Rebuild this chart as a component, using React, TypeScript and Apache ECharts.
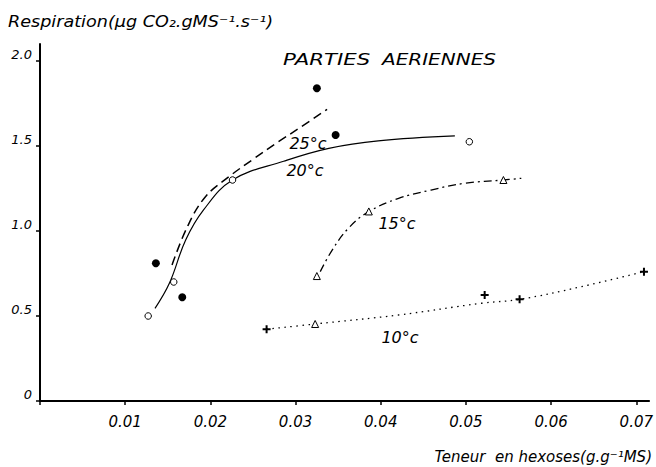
import React, { useEffect, useRef } from "react";
import * as echarts from "echarts";

// Axis ticks
const xTicks = [0, 0.01, 0.02, 0.03, 0.04, 0.05, 0.06, 0.07];
const xLabels = [0.01, 0.02, 0.03, 0.04, 0.05, 0.06, 0.07];
const yTicks = [0, 0.5, 1.0, 1.5, 2.0];

// Measured points
const pts25 = [
  [0.0136, 0.81],
  [0.0167, 0.61],
  [0.0325, 1.84],
  [0.0347, 1.565],
];
const pts20 = [
  [0.0127, 0.5],
  [0.0157, 0.7],
  [0.0226, 1.3],
  [0.0504, 1.525],
];
const pts15 = [
  [0.0325, 0.735],
  [0.0386, 1.115],
  [0.0544, 1.3],
];
const pts10tri = [[0.0323, 0.453]];
const pts10cross = [
  [0.0266, 0.422],
  [0.0522, 0.624],
  [0.0563, 0.598],
  [0.0709, 0.761],
];

// Fitted curves
const curve25 = [
  [0.0155, 0.8],
  [0.0173, 1.025],
  [0.0194, 1.2],
  [0.0222, 1.32],
  [0.0249, 1.418],
  [0.028, 1.525],
  [0.0307, 1.614],
  [0.0337, 1.716],
];
const curve20 = [
  [0.0135, 0.545],
  [0.0152, 0.694],
  [0.0171, 0.947],
  [0.0192, 1.124],
  [0.0226, 1.3],
  [0.0286, 1.41],
  [0.0339, 1.486],
  [0.0397, 1.53],
  [0.0487, 1.559],
];
const curve15 = [
  [0.0329, 0.761],
  [0.0343, 0.888],
  [0.0362, 1.016],
  [0.0386, 1.114],
  [0.0421, 1.192],
  [0.0459, 1.241],
  [0.0499, 1.281],
  [0.0544, 1.3],
  [0.0565, 1.31],
];
const curve10 = [
  [0.0266, 0.422],
  [0.0323, 0.453],
  [0.0421, 0.506],
  [0.0518, 0.575],
  [0.0563, 0.598],
  [0.0635, 0.672],
  [0.0709, 0.761],
];

const FONT = "'DejaVu Sans', sans-serif";
const PLUS = "path://M3,0h2v3h3v2h-3v3h-2v-3h-3v-2h3z";

export default function App() {
  const ref = useRef<HTMLDivElement>(null);
  useEffect(() => {
    if (!ref.current) return;
    const chart = echarts.init(ref.current, null, { renderer: "svg" });
    const lineBase = (data: number[][], type: any, width: number) => ({
      type: "line",
      data,
      smooth: 0.4,
      symbol: "none",
      silent: true,
      z: 2,
      lineStyle: { color: "#000", width, type },
    });
    const scatter = (data: number[][], symbol: string, size: number, filled: boolean) => ({
      type: "scatter",
      data,
      symbol,
      symbolSize: size,
      z: 5,
      itemStyle: {
        color: filled ? "#000" : "#fff",
        borderColor: "#000",
        borderWidth: filled ? 0 : 1,
        opacity: 1,
      },
    });
    const txt = (x: number, y: number, text: string, size: number, align = "center", sx = 1) => ({
      type: "text",
      x,
      y,
      scaleX: sx,
      style: {
        text,
        fill: "#000",
        font: `italic ${size}px ${FONT}`,
        textAlign: align,
        textVerticalAlign: "middle",
      },
    });
    chart.setOption({
      animation: false,
      backgroundColor: "#fff",
      grid: { left: 40, right: 4, top: 44, bottom: 66 },
      xAxis: {
        type: "value",
        min: 0,
        max: 0.0715,
        axisLine: { show: true, lineStyle: { color: "#000", width: 2 } },
        axisTick: {
          show: true,
          customValues: xTicks,
          length: 4,
          lineStyle: { color: "#000", width: 1.5 },
        },
        axisLabel: {
          customValues: xLabels,
          formatter: (v: number) => v.toFixed(2),
          fontStyle: "italic",
          fontFamily: FONT,
          fontSize: 15,
          color: "#000",
          margin: 13,
        },
        splitLine: { show: false },
      },
      yAxis: {
        type: "value",
        min: 0,
        max: 2.1,
        axisLine: { show: true, lineStyle: { color: "#000", width: 2 } },
        axisTick: {
          show: true,
          customValues: yTicks,
          length: 4,
          lineStyle: { color: "#000", width: 1.5 },
        },
        axisLabel: {
          customValues: yTicks,
          formatter: (v: number) => (v === 0 ? "0" : v.toFixed(1)),
          fontStyle: "italic",
          fontFamily: FONT,
          fontSize: 13,
          color: "#000",
          margin: 8,
          verticalAlign: "bottom",
          lineHeight: 13,
        },
        splitLine: { show: false },
      },
      graphic: [
        txt(8, 21, "Respiration(µg CO₂.gMS⁻¹.s⁻¹)", 16, "left", 1.1),
        txt(283, 59, "PARTIES", 16, "left", 1.33),
        txt(382, 59, "AERIENNES", 16, "left", 1.25),
        txt(308, 143, "25°c", 16),
        txt(305, 170, "20°c", 16),
        txt(397, 223, "15°c", 16),
        txt(400, 337, "10°c", 16),
        txt(652, 457, "Teneur  en hexoses(g.g⁻¹MS)", 15, "right"),
      ],
      series: [
        lineBase(curve25, [9, 5], 1.5),
        lineBase(curve20, "solid", 1.2),
        lineBase(curve15, [8, 4, 2, 4], 1.3),
        lineBase(curve10, [1.5, 4.5], 1.3),
        scatter(pts25, "circle", 8, true),
        scatter(pts20, "circle", 6.5, false),
        scatter(pts15, "triangle", 7, false),
        scatter(pts10tri, "triangle", 7, false),
        scatter(pts10cross, PLUS, 8, true),
      ],
    });
    return () => chart.dispose();
  }, []);
  return (
    <div
      ref={ref}
      style={{ position: "fixed", left: 0, top: 0, width: 656, height: 467 }}
    />
  );
}
